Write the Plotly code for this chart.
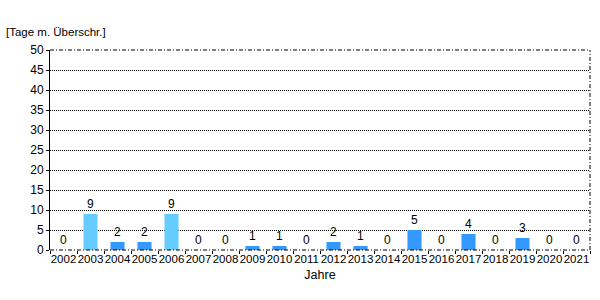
import plotly.graph_objects as go

years = [str(y) for y in range(2002, 2022)]
values = [0, 9, 2, 2, 9, 0, 0, 1, 1, 0, 2, 1, 0, 5, 0, 4, 0, 3, 0, 0]
highlight_years = ["2003", "2006"]
colors = ["#66CCFF" if y in highlight_years else "#3399FF" for y in years]

fig = go.Figure()
fig.add_trace(go.Bar(
    x=years, y=values, marker=dict(color=colors, line=dict(width=0)),
    width=0.52, text=[str(v) for v in values], textposition="outside",
    textfont=dict(family="Arial, Liberation Sans", size=12, color="black"),
    cliponaxis=False,
))

fig.update_layout(
    width=600, height=300,
    margin=dict(l=50, r=10, t=50, b=50),
    paper_bgcolor="white", plot_bgcolor="white",
    showlegend=False,
    font=dict(family="Arial, Liberation Sans", size=12, color="black"),
    xaxis=dict(
        type="category", tickson="boundaries", ticks="outside", ticklen=3,
        tickcolor="black", showgrid=False, showline=False, zeroline=False,
        tickangle=0, tickfont=dict(size=11.5),
        title=dict(text="Jahre", standoff=6, font=dict(size=12.5)),
    ),
    yaxis=dict(
        range=[0, 50], dtick=5, ticks="outside", ticklen=3, tickcolor="black",
        showline=True, linecolor="black", linewidth=1, zeroline=False,
        showgrid=True, gridcolor="black", griddash="1px,1px", gridwidth=1,
        tickfont=dict(size=12),
    ),
    annotations=[dict(
        text="[Tage m. Überschr.]", xref="paper", yref="paper", x=-0.085, y=1.09,
        xanchor="left", yanchor="middle", showarrow=False, font=dict(size=11.5),
    )],
    shapes=[
        dict(type="line", xref="paper", yref="paper", x0=0, x1=1, y0=1, y1=1,
             line=dict(color="black", width=1, dash="4px,2px,1px,2px")),
        dict(type="line", xref="paper", yref="paper", x0=1, x1=1, y0=0, y1=1,
             line=dict(color="black", width=1, dash="4px,2px,1px,2px")),
        dict(type="line", xref="paper", yref="paper", x0=0, x1=1, y0=0, y1=0,
             line=dict(color="black", width=1, dash="4px,2px,1px,2px")),
    ],
)

fig.write_html("out.html")
